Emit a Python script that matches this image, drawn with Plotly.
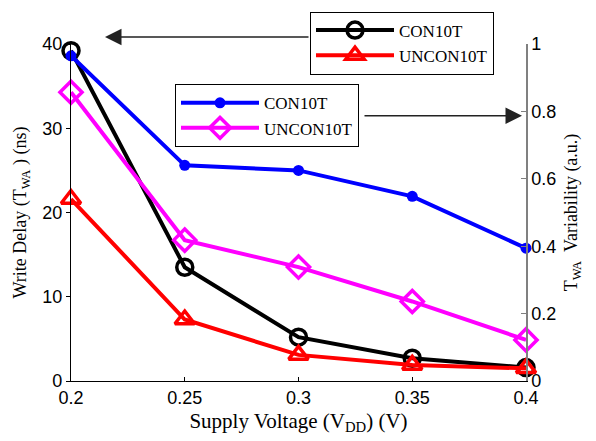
import plotly.graph_objects as go

vdd = [0.2, 0.25, 0.3, 0.35, 0.4]
delay_con = [39.2, 13.5, 5.2, 2.7, 1.6]
delay_uncon = [21.6, 7.3, 3.1, 1.9, 1.5]
var_con = [0.965, 0.64, 0.625, 0.548, 0.394]
var_uncon = [0.857, 0.418, 0.338, 0.236, 0.122]
x_ticks = [0.2, 0.25, 0.3, 0.35, 0.4]
x_ticklabels = ["0.2", "0.25", "0.3", "0.35", "0.4"]
y_ticks = [0, 10, 20, 30, 40]
y2_ticks = [0, 0.2, 0.4, 0.6, 0.8, 1]
y2_ticklabels = ["0", "0.2", "0.4", "0.6", "0.8", "1"]

serif = "Liberation Serif"
sans = "Liberation Sans"

fig = go.Figure()
fig.add_trace(go.Scatter(x=vdd, y=delay_con, name="CON10T", mode="lines+markers",
                         line=dict(color="black", width=4),
                         marker=dict(symbol="circle-open", size=16, line=dict(width=3.5, color="black")),
                         cliponaxis=False, legend="legend"))
fig.add_trace(go.Scatter(x=vdd, y=delay_uncon, name="UNCON10T", mode="lines+markers",
                         line=dict(color="red", width=4),
                         marker=dict(symbol="triangle-up-open", size=17, line=dict(width=3.5, color="red")),
                         cliponaxis=False, legend="legend"))
fig.add_trace(go.Scatter(x=vdd, y=var_con, name="CON10T", mode="lines+markers", yaxis="y2",
                         line=dict(color="blue", width=4),
                         marker=dict(symbol="circle", size=11, color="blue"),
                         cliponaxis=False, legend="legend2"))
fig.add_trace(go.Scatter(x=vdd, y=var_uncon, name="UNCON10T", mode="lines+markers", yaxis="y2",
                         line=dict(color="#ff00ff", width=4),
                         marker=dict(symbol="diamond-open", size=17, line=dict(width=3.5, color="#ff00ff")),
                         cliponaxis=False, legend="legend2"))

L, R, T, B = 71, 70, 38, 60
W, H = 596, 441
pw, ph = W - L - R, H - T - B

def px(xp):
    return (xp - L) / pw

def py(yp):
    return (H - B - yp) / ph

fig.update_layout(
    width=W, height=H, margin=dict(l=L, r=R, t=T, b=B),
    paper_bgcolor="white", plot_bgcolor="white",
    font=dict(family=serif, size=17, color="black"),
    xaxis=dict(range=[0.2, 0.4], tickvals=x_ticks, ticktext=x_ticklabels,
               showgrid=False, zeroline=False, showline=True, linecolor="black", linewidth=1.2,
               ticks="inside", ticklen=4, tickcolor="black",
               tickfont=dict(family=sans, size=18, color="black"),
               title=dict(text="Supply Voltage (V<sub>DD</sub>) (V)", font=dict(family=serif, size=21, color="black"), standoff=6)),
    yaxis=dict(range=[0, 40], tickvals=y_ticks, showgrid=False, zeroline=False,
               showline=True, linecolor="black", linewidth=1.2,
               ticks="outside", ticklen=4, tickcolor="black",
               tickfont=dict(family=sans, size=18, color="black"),
               title=dict(text="Write Delay (T<sub>WA</sub> ) (ns)", font=dict(family=serif, size=18, color="black"), standoff=10)),
    yaxis2=dict(range=[0, 1], tickvals=y2_ticks, ticktext=y2_ticklabels, overlaying="y", side="right",
                showgrid=False, zeroline=False, showline=True, linecolor="#808080", linewidth=1.5,
                ticks="inside", ticklen=5, tickcolor="#808080",
                tickfont=dict(family=sans, size=18, color="black"),
                title=dict(text="T<sub>WA</sub>  Variability (a.u.)", font=dict(family=serif, size=18, color="black"), standoff=9)),
    legend=dict(x=px(310), y=py(37), xanchor="left", yanchor="middle",
                bgcolor="white", bordercolor="black", borderwidth=1,
                font=dict(family=serif, size=17, color="black"), itemwidth=78),
    legend2=dict(x=px(175), y=py(111), xanchor="left", yanchor="middle",
                 bgcolor="white", bordercolor="black", borderwidth=1,
                 font=dict(family=serif, size=17, color="black"), itemwidth=78),
    showlegend=True,
)

fig.add_annotation(x=px(105), y=py(31), xref="paper", yref="paper", ax=205, ay=0,
                   text="", showarrow=True, arrowhead=2, arrowsize=2.2, arrowwidth=1.5, arrowcolor="#222222")
fig.add_annotation(x=px(522), y=py(111), xref="paper", yref="paper", ax=-159, ay=0,
                   text="", showarrow=True, arrowhead=2, arrowsize=2.2, arrowwidth=1.5, arrowcolor="#222222")

fig.write_html("out.html")
